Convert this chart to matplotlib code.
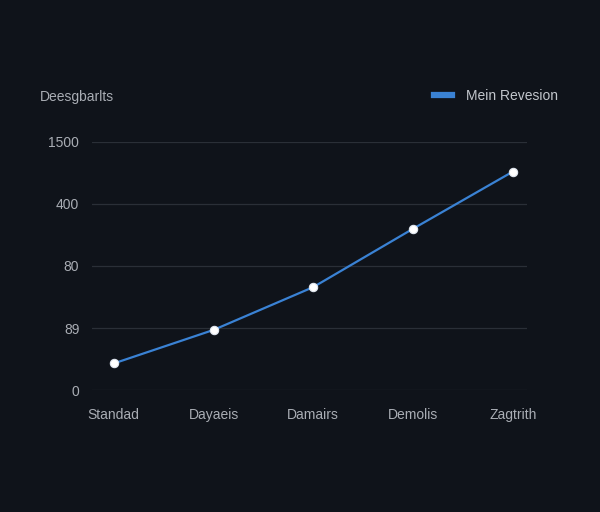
import matplotlib
matplotlib.use("Agg")
import matplotlib.pyplot as plt
from matplotlib.lines import Line2D

plt.rcParams["font.family"] = ["Liberation Sans", "DejaVu Sans"]

BG = "#0f131a"
GRID = "#2a2f37"
TEXT = "#a9adb4"
BLUE = "#3a82d4"

categories = ["Standad", "Dayaeis", "Damairs", "Demolis", "Zagtrith"]
values = [43, 97, 166, 260, 352]
ytick_vals = [0, 100, 200, 300, 400]
ytick_labels = ["0", "89", "80", "400", "1500"]
series_name = "Mein Revesion"
title = "Deesgbarlts"

fig = plt.figure(figsize=(6, 5.12), dpi=100, facecolor=BG)
ax = fig.add_axes([0.153, 0.238, 0.725, 0.485])
ax.set_facecolor(BG)

x = list(range(len(categories)))
ax.plot(x, values, color=BLUE, linewidth=1.6, zorder=3, clip_on=False)
ax.plot(x, values, linestyle="none", marker="o", markersize=6,
        markerfacecolor="white", markeredgecolor="#dfe6ef", markeredgewidth=0.8,
        zorder=4, clip_on=False)

ax.set_xlim(-0.22, 4.14)
ax.set_ylim(0, 400)
ax.set_yticks(ytick_vals)
ax.set_yticklabels(ytick_labels)
ax.set_xticks(x)
ax.set_xticklabels(categories)
ax.grid(axis="y", color=GRID, linewidth=0.9)
ax.set_axisbelow(True)
for s in ax.spines.values():
    s.set_visible(False)
ax.tick_params(axis="both", length=0, colors=TEXT, labelsize=10)
ax.tick_params(axis="y", pad=9)
ax.tick_params(axis="x", pad=13)

fig.text(40 / 600, 1 - 97 / 512, title, color=TEXT, fontsize=10, va="center", ha="left")

handle = Line2D([0], [0], color=BLUE, linewidth=4.5)
leg = ax.legend([handle], [series_name], loc="center right",
                bbox_to_anchor=(0.95, 1 - 96 / 512), bbox_transform=fig.transFigure,
                frameon=False, handlelength=1.3, handletextpad=1.0, fontsize=10)
for t in leg.get_texts():
    t.set_color("#c2c6cc")

fig.savefig("out.png", dpi=100, facecolor=BG)
